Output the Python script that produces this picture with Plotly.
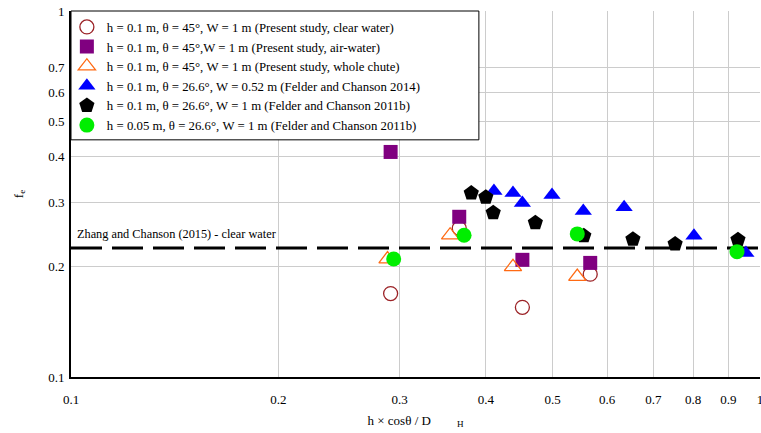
import math
import plotly.graph_objects as go

# ---- data ----
clear_x = [0.291, 0.366, 0.452, 0.567]
clear_y = [0.169, 0.255, 0.155, 0.191]

air_x = [0.291, 0.366, 0.452, 0.567]
air_y = [0.412, 0.274, 0.209, 0.205]

whole_x = [0.288, 0.355, 0.438, 0.543]
whole_y = [0.210, 0.244, 0.200, 0.188]

fc2014_x = [0.411, 0.438, 0.452, 0.499, 0.554, 0.635, 0.802, 0.954]
fc2014_y = [0.322, 0.318, 0.299, 0.314, 0.284, 0.291, 0.243, 0.218]

fc2011_x = [0.381, 0.400, 0.410, 0.472, 0.555, 0.654, 0.753, 0.929]
fc2011_y = [0.318, 0.310, 0.281, 0.264, 0.243, 0.238, 0.231, 0.237]

fc2011s_x = [0.294, 0.372, 0.543, 0.926]
fc2011s_y = [0.210, 0.244, 0.246, 0.220]

zhang_value = 0.2252
zhang_x = [0.1, 1.0]
zhang_y = [zhang_value, zhang_value]

x_ticks = [0.1, 0.2, 0.3, 0.4, 0.5, 0.6, 0.7, 0.8, 0.9, 1]
y_ticks = [0.1, 0.2, 0.3, 0.4, 0.5, 0.6, 0.7, 1]

FONT = "Times New Roman"

fig = go.Figure()

fig.add_trace(go.Scatter(x=zhang_x, y=zhang_y, mode="lines", showlegend=False,
                         line=dict(color="black", width=3, dash="31px,10px"), hoverinfo="skip"))

fig.add_trace(go.Scatter(x=clear_x, y=clear_y, mode="markers",
                         name="h = 0.1 m, θ = 45°, W = 1 m (Present study, clear water)",
                         marker=dict(symbol="circle-open", size=14, color="#9B2226", line=dict(width=1.3))))
fig.add_trace(go.Scatter(x=air_x, y=air_y, mode="markers",
                         name="h = 0.1 m, θ = 45°,W = 1 m (Present study, air-water)",
                         marker=dict(symbol="square", size=14, color="#800080")))
fig.add_trace(go.Scatter(x=whole_x, y=whole_y, mode="markers",
                         name="h = 0.1 m, θ = 45°, W = 1 m (Present study, whole chute)",
                         marker=dict(symbol="triangle-up-open", size=15, color="#FF6A13", line=dict(width=1.3))))
fig.add_trace(go.Scatter(x=fc2014_x, y=fc2014_y, mode="markers",
                         name="h = 0.1 m, θ = 26.6°, W = 0.52 m (Felder and Chanson 2014)",
                         marker=dict(symbol="triangle-up", size=15, color="#0000FF")))
fig.add_trace(go.Scatter(x=fc2011_x, y=fc2011_y, mode="markers",
                         name="h = 0.1 m, θ = 26.6°, W = 1 m (Felder and Chanson 2011b)",
                         marker=dict(symbol="pentagon", size=16, color="black")))
fig.add_trace(go.Scatter(x=fc2011s_x, y=fc2011s_y, mode="markers",
                         name="h = 0.05 m, θ = 26.6°, W = 1 m (Felder and Chanson 2011b)",
                         marker=dict(symbol="circle", size=15, color="#00EE00")))

fig.add_annotation(x=0, xref="paper", y=math.log10(zhang_value), yref="y",
                   yanchor="bottom", xanchor="left", xshift=4, yshift=5,
                   text="Zhang and Chanson (2015) - clear water", showarrow=False,
                   font=dict(family=FONT, size=12.3, color="black"))

# legend frame (white box with black border)
fig.add_shape(type="rect", xref="paper", yref="paper", x0=0, x1=0.592, y0=0.648, y1=1.0,
              line=dict(color="black", width=1), fillcolor="white", layer="above")

fig.update_layout(
    width=761, height=433,
    margin=dict(l=71, r=1, t=11, b=56, autoexpand=False),
    paper_bgcolor="white", plot_bgcolor="white",
    font=dict(family=FONT, size=13, color="black"),
    showlegend=True,
    legend=dict(x=-0.006, y=0.997, xanchor="left", yanchor="top",
                borderwidth=0, bgcolor="rgba(0,0,0,0)",
                font=dict(family=FONT, size=12.8, color="black"),
                tracegroupgap=0),
)

fig.update_xaxes(type="log", range=[-1, 0], tickvals=x_ticks,
                 ticktext=[str(v) for v in x_ticks],
                 showgrid=True, gridcolor="#cccccc", gridwidth=1,
                 showline=True, linecolor="black", linewidth=2,
                 ticks="", zeroline=False, automargin=False, ticklabelstandoff=9,
                 ticklabeloverflow="allow",
                 title=dict(text="h × cosθ / D\u00a0\u00a0\u00a0\u00a0\u00a0\u00a0\u00a0\u00a0<sub>H</sub>",
                            font=dict(family=FONT, size=13), standoff=10))
fig.update_yaxes(type="log", range=[-1, 0], tickvals=y_ticks,
                 ticktext=[str(v) for v in y_ticks],
                 showgrid=True, gridcolor="#cccccc", gridwidth=1,
                 showline=True, linecolor="black", linewidth=2,
                 ticks="", zeroline=False, automargin=False, ticklabelstandoff=2,
                 ticklabeloverflow="allow",
                 title=dict(text="f<sub>e</sub>", font=dict(family=FONT, size=13), standoff=22))

fig.write_html("out.html", config={"displayModeBar": False},
               post_script="document.body.style.margin='0px';")
